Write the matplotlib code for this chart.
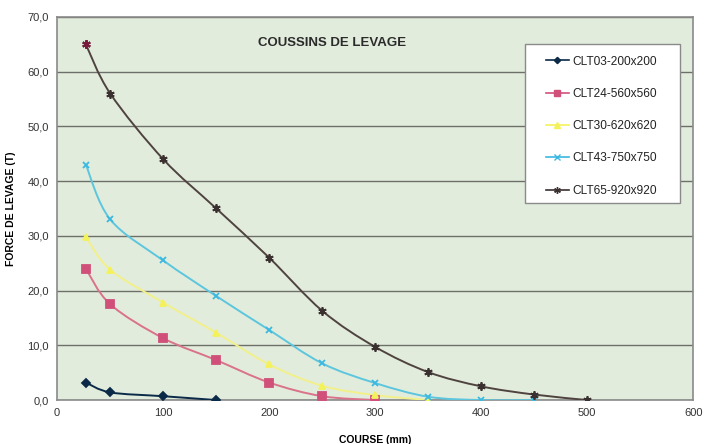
import numpy as np
import matplotlib
matplotlib.use('Agg')
import matplotlib.pyplot as plt
from matplotlib.path import Path
from matplotlib.patches import PathPatch, Rectangle
from matplotlib.lines import Line2D
from matplotlib.ticker import FuncFormatter

plt.rcParams['font.family'] = ['Liberation Sans', 'DejaVu Sans']

# course (mm) / force (T) for each cushion
names = ['CLT03-200x200', 'CLT24-560x560', 'CLT30-620x620', 'CLT43-750x750', 'CLT65-920x920']
x_clt03 = [27, 50, 100, 150]
y_clt03 = [3.2, 1.4, 0.7, 0.0]
x_clt24 = [27, 50, 100, 150, 200, 250, 300]
y_clt24 = [24.0, 17.5, 11.3, 7.3, 3.2, 0.7, 0.0]
x_clt30 = [27, 50, 100, 150, 200, 250, 300, 350]
y_clt30 = [29.8, 23.8, 17.8, 12.3, 6.5, 2.6, 0.9, 0.0]
x_clt43 = [27, 50, 100, 150, 200, 250, 300, 350, 400, 450]
y_clt43 = [43.0, 33.0, 25.5, 19.0, 12.8, 6.7, 3.1, 0.6, 0.0, 0.0]
x_clt65 = [27, 50, 100, 150, 200, 250, 300, 350, 400, 450, 500]
y_clt65 = [65.0, 56.0, 44.0, 35.0, 26.0, 16.3, 9.7, 5.1, 2.5, 1.0, 0.0]

xs = [x_clt03, x_clt24, x_clt30, x_clt43, x_clt65]
ys = [y_clt03, y_clt24, y_clt30, y_clt43, y_clt65]
colors = ['#0b2a48', '#d9728a', '#f2f08a', '#5cc6de', '#4f4340']
mcolors = ['#0b2a48', '#d0507a', '#f4f25a', '#3ab8e0', '#3a3030']
markers = ['D', 's', '^', 'x', (6, 2, 0)]
msizes = [4, 5.5, 5, 5, 6]


def smooth_path(x, y, tension=1/6.):
    # cubic bezier segments through the points (excel-like smoothed line)
    pts = np.column_stack([x, y]).astype(float)
    verts = [pts[0]]
    codes = [Path.MOVETO]
    n = len(pts)
    for i in range(n - 1):
        p0 = pts[i - 1] if i > 0 else pts[i]
        p1 = pts[i]
        p2 = pts[i + 1]
        p3 = pts[i + 2] if i + 2 < n else pts[i + 1]
        c1 = p1 + (p2 - p0) * tension
        c2 = p2 - (p3 - p1) * tension
        verts += [c1, c2, p2]
        codes += [Path.CURVE4] * 3
    return Path(verts, codes)


fig = plt.figure(figsize=(7.06, 4.44), dpi=100)
ax = fig.add_axes([0.081, 0.099, 0.901, 0.863])
ax.set_facecolor('#e2ecdc')

for x, y, c, mc, m, ms in zip(xs, ys, colors, mcolors, markers, msizes):
    patch = PathPatch(smooth_path(x, y), facecolor='none', edgecolor=c, lw=1.4, zorder=3)
    ax.add_patch(patch)
    ax.plot(x, y, ls='none', marker=m, color=mc, ms=ms, mew=1.3, zorder=4)

# top point of the biggest cushion printed in maroon
ax.plot(x_clt65[:1], y_clt65[:1], ls='none', color='#7a1a3a', zorder=4,
        marker=(6, 2, 0), ms=6, mew=1.5)

ax.set_xlim(0, 600)
ax.set_ylim(0, 70)
ax.set_xticks(np.arange(0, 601, 100))
ax.set_yticks(np.arange(0, 71, 10))
ax.yaxis.set_major_formatter(FuncFormatter(lambda v, p: ('%.1f' % v).replace('.', ',')))
ax.grid(axis='y', color='#6d6f6a', lw=1.0)
ax.set_axisbelow(True)
ax.tick_params(length=0, labelsize=8, colors='#333333', pad=6)
for s in ax.spines.values():
    s.set_color('#8a8a8a')
    s.set_linewidth(1.2)

ax.set_xlabel('COURSE (mm)', fontsize=7.5, fontweight='bold', labelpad=12)
ax.set_ylabel('FORCE DE LEVAGE (T)', fontsize=7.5, fontweight='bold', labelpad=8)
ax.text(259, 65.2, 'COUSSINS DE LEVAGE', fontsize=9.5, fontweight='bold',
        color='#2b2b2b', ha='center', va='center')

# legend box
ax.add_patch(Rectangle((0.736, 0.514), 0.2436, 0.4155, transform=ax.transAxes,
                       facecolor='white', edgecolor='#8a8a8a', lw=1.0, zorder=5))
handles = [Line2D([0], [0], color=mc, marker=m, mfc=mc, mec=mc, ms=ms * 0.8, lw=1.2)
           for mc, m, ms in zip(mcolors, markers, msizes)]
leg = ax.legend(handles, names, loc='upper left', bbox_to_anchor=(0.768, 0.899),
                fontsize=8.6, frameon=False, handlelength=1.95,
                handletextpad=0.25, labelspacing=1.7, borderpad=0, borderaxespad=0)
leg.set_zorder(6)
for t in leg.get_texts():
    t.set_color('#222222')

plt.savefig('out.png', dpi=100)
